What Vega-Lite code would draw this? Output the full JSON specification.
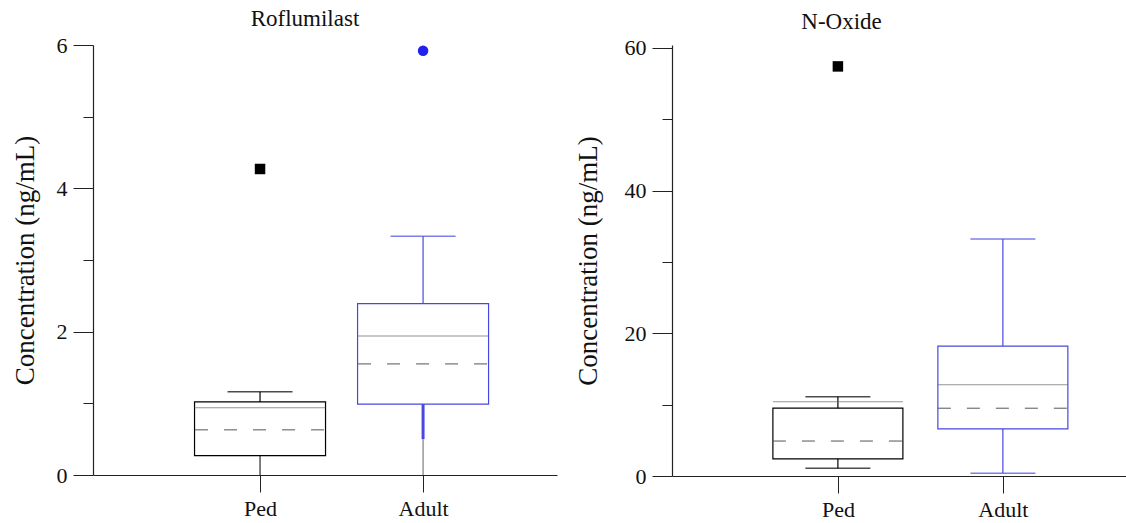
{
  "$schema": "https://vega.github.io/schema/vega-lite/v6.json",
  "background": "white",
  "padding": {"left": 11, "top": 8, "right": 0, "bottom": 0},
  "resolve": {"scale": {"x": "independent", "y": "independent"}},
  "config": {
    "view": {"stroke": null},
    "font": "Liberation Serif",
    "axis": {"grid": false, "domainColor": "#222", "tickColor": "#222", "labelColor": "#111", "titleColor": "#111", "labelFont": "Liberation Serif", "titleFont": "Liberation Serif", "labelFontWeight": "normal", "titleFontWeight": "normal"},
    "title": {"font": "Liberation Serif", "fontSize": 23, "fontWeight": "normal", "color": "#111"},
    "concat": {"spacing": 17}
  },
  "datasets": {
    "rof": [
      {"group": "Ped", "lo": 0, "q1": 0.27, "median": 0.94, "mean": 0.63, "q3": 1.02, "hi": 1.16},
      {"group": "Adult", "lo": 0.5, "q1": 0.99, "median": 1.94, "mean": 1.55, "q3": 2.39, "hi": 3.33}
    ],
    "rofOut": [
      {"group": "Ped", "value": 4.27},
      {"group": "Adult", "value": 5.92}
    ],
    "nox": [
      {"group": "Ped", "lo": 1.1, "q1": 2.4, "median": 10.4, "mean": 4.9, "q3": 9.5, "hi": 11.1},
      {"group": "Adult", "lo": 0.4, "q1": 6.6, "median": 12.8, "mean": 9.5, "q3": 18.2, "hi": 33.2}
    ],
    "noxOut": [
      {"group": "Ped", "value": 57.4}
    ]
  },
  "hconcat": [
    {
      "width": 464,
      "height": 430,
      "title": {"text": "Roflumilast", "offset": 3, "dx": -20},
      "encoding": {
        "x": {"field": "group", "type": "nominal", "sort": ["Ped", "Adult"], "scale": {"type": "point", "domain": ["Ped", "Adult"], "padding": 0.923, "align": 0.555},
          "axis": {"title": null, "labelAngle": 0, "tickSize": 17, "labelPadding": 6, "labelFontSize": 22, "tickWidth": 1, "domainWidth": 1.2}}
      },
      "layer": [
        {
          "data": {"name": "rof"},
          "mark": {"type": "bar", "size": 131, "fill": "white", "strokeWidth": 1.2},
          "encoding": {
            "y": {"field": "q1", "type": "quantitative", "title": "Concentration (ng/mL)", "scale": {"domain": [0, 6], "nice": false},
              "axis": {"values": [0, 1, 2, 3, 4, 5, 6], "format": "d", "labelExpr": "datum.value % 2 === 0 ? datum.label : ''", "tickSize": {"condition": {"test": "datum.value % 2 === 0", "value": 20}, "value": 10}, "labelPadding": 6, "labelFontSize": 22, "titleFontSize": 27, "titlePadding": 17, "domainWidth": 1.2}},
            "y2": {"field": "q3"},
            "stroke": {"field": "group", "type": "nominal", "scale": {"domain": ["Ped", "Adult"], "range": ["#000000", "#4848e0"]}, "legend": null}
          }
        },
        {
          "data": {"name": "rof"},
          "mark": {"type": "rule", "strokeWidth": 1.2},
          "encoding": {
            "y": {"field": "q3", "type": "quantitative", "title": "Concentration (ng/mL)"},
            "y2": {"field": "hi"},
            "color": {"field": "group", "type": "nominal", "scale": {"domain": ["Ped", "Adult"], "range": ["#000000", "#4848e0"]}, "legend": null}
          }
        },
        {
          "data": {"name": "rof"},
          "mark": {"type": "rule", "strokeWidth": 1, "color": "#666"},
          "encoding": {
            "y": {"field": "lo", "type": "quantitative", "title": "Concentration (ng/mL)"},
            "y2": {"datum": 0}
          }
        },
        {
          "data": {"name": "rof"},
          "transform": [{"filter": "datum.group === 'Ped'"}],
          "mark": {"type": "rule", "strokeWidth": 1},
          "encoding": {
            "y": {"field": "lo", "type": "quantitative", "title": "Concentration (ng/mL)"},
            "y2": {"field": "q1"},
            "color": {"field": "group", "type": "nominal", "legend": null}
          }
        },
        {
          "data": {"name": "rof"},
          "transform": [{"filter": "datum.group === 'Adult'"}],
          "mark": {"type": "rule", "strokeWidth": 3},
          "encoding": {
            "y": {"field": "lo", "type": "quantitative", "title": "Concentration (ng/mL)"},
            "y2": {"field": "q1"},
            "color": {"field": "group", "type": "nominal", "legend": null}
          }
        },
        {
          "data": {"name": "rof"},
          "mark": {"type": "tick", "size": 65, "thickness": 1.5},
          "encoding": {
            "y": {"field": "hi", "type": "quantitative", "title": "Concentration (ng/mL)"},
            "color": {"field": "group", "type": "nominal", "legend": null}
          }
        },
        {
          "data": {"name": "rof"},
          "mark": {"type": "tick", "size": 131, "thickness": 1, "color": "#666"},
          "encoding": {
            "y": {"field": "median", "type": "quantitative", "title": "Concentration (ng/mL)"}
          }
        },
        {
          "data": {"name": "rof"},
          "mark": {"type": "rule", "strokeDash": [13, 16], "strokeWidth": 1, "color": "#555", "xOffset": -65, "x2Offset": 65},
          "encoding": {
            "y": {"field": "mean", "type": "quantitative", "title": "Concentration (ng/mL)"},
            "x2": {"field": "group"}
          }
        },
        {
          "data": {"name": "rofOut"},
          "mark": {"type": "point", "filled": true, "size": 110, "opacity": 1, "strokeWidth": 0},
          "encoding": {
            "y": {"field": "value", "type": "quantitative", "title": "Concentration (ng/mL)"},
            "fill": {"field": "group", "type": "nominal", "scale": {"domain": ["Ped", "Adult"], "range": ["#000000", "#2020f0"]}, "legend": null},
            "shape": {"field": "group", "type": "nominal", "scale": {"domain": ["Ped", "Adult"], "range": ["square", "circle"]}, "legend": null}
          }
        }
      ]
    },
    {
      "width": 455,
      "height": 431,
      "title": {"text": "N-Oxide", "offset": 3, "dx": -58},
      "encoding": {
        "x": {"field": "group", "type": "nominal", "sort": ["Ped", "Adult"], "scale": {"type": "point", "domain": ["Ped", "Adult"], "padding": 0.879, "align": 0.572},
          "axis": {"title": null, "labelAngle": 0, "tickSize": 17, "labelPadding": 6, "labelFontSize": 22, "tickWidth": 1, "domainWidth": 1.2}}
      },
      "layer": [
        {
          "data": {"name": "nox"},
          "mark": {"type": "bar", "size": 130, "fill": "white", "strokeWidth": 1.2},
          "encoding": {
            "y": {"field": "q1", "type": "quantitative", "title": "Concentration (ng/mL)", "scale": {"domain": [0, 60.4], "nice": false},
              "axis": {"values": [0, 10, 20, 30, 40, 50, 60], "format": "d", "labelExpr": "datum.value % 20 === 0 ? datum.label : ''", "tickSize": {"condition": {"test": "datum.value % 20 === 0", "value": 20}, "value": 10}, "labelPadding": 6, "labelFontSize": 22, "titleFontSize": 27, "titlePadding": 22, "domainWidth": 1.2}},
            "y2": {"field": "q3"},
            "stroke": {"field": "group", "type": "nominal", "scale": {"domain": ["Ped", "Adult"], "range": ["#000000", "#4848e0"]}, "legend": null}
          }
        },
        {
          "data": {"name": "nox"},
          "mark": {"type": "rule", "strokeWidth": 1.2},
          "encoding": {
            "y": {"field": "q3", "type": "quantitative", "title": "Concentration (ng/mL)"},
            "y2": {"field": "hi"},
            "color": {"field": "group", "type": "nominal", "scale": {"domain": ["Ped", "Adult"], "range": ["#000000", "#4848e0"]}, "legend": null}
          }
        },
        {
          "data": {"name": "nox"},
          "mark": {"type": "rule", "strokeWidth": 1.2},
          "encoding": {
            "y": {"field": "lo", "type": "quantitative", "title": "Concentration (ng/mL)"},
            "y2": {"field": "q1"},
            "color": {"field": "group", "type": "nominal", "legend": null}
          }
        },
        {
          "data": {"name": "nox"},
          "mark": {"type": "tick", "size": 65, "thickness": 1.5},
          "encoding": {
            "y": {"field": "hi", "type": "quantitative", "title": "Concentration (ng/mL)"},
            "color": {"field": "group", "type": "nominal", "legend": null}
          }
        },
        {
          "data": {"name": "nox"},
          "mark": {"type": "tick", "size": 65, "thickness": 1.5},
          "encoding": {
            "y": {"field": "lo", "type": "quantitative", "title": "Concentration (ng/mL)"},
            "color": {"field": "group", "type": "nominal", "legend": null}
          }
        },
        {
          "data": {"name": "nox"},
          "mark": {"type": "tick", "size": 130, "thickness": 1, "color": "#666"},
          "encoding": {
            "y": {"field": "median", "type": "quantitative", "title": "Concentration (ng/mL)"}
          }
        },
        {
          "data": {"name": "nox"},
          "mark": {"type": "rule", "strokeDash": [13, 16], "strokeWidth": 1, "color": "#555", "xOffset": -65, "x2Offset": 65},
          "encoding": {
            "y": {"field": "mean", "type": "quantitative", "title": "Concentration (ng/mL)"},
            "x2": {"field": "group"}
          }
        },
        {
          "data": {"name": "noxOut"},
          "mark": {"type": "point", "filled": true, "size": 110, "opacity": 1, "strokeWidth": 0},
          "encoding": {
            "y": {"field": "value", "type": "quantitative", "title": "Concentration (ng/mL)"},
            "fill": {"field": "group", "type": "nominal", "scale": {"domain": ["Ped", "Adult"], "range": ["#000000", "#2020f0"]}, "legend": null},
            "shape": {"field": "group", "type": "nominal", "scale": {"domain": ["Ped", "Adult"], "range": ["square", "circle"]}, "legend": null}
          }
        }
      ]
    }
  ]
}
